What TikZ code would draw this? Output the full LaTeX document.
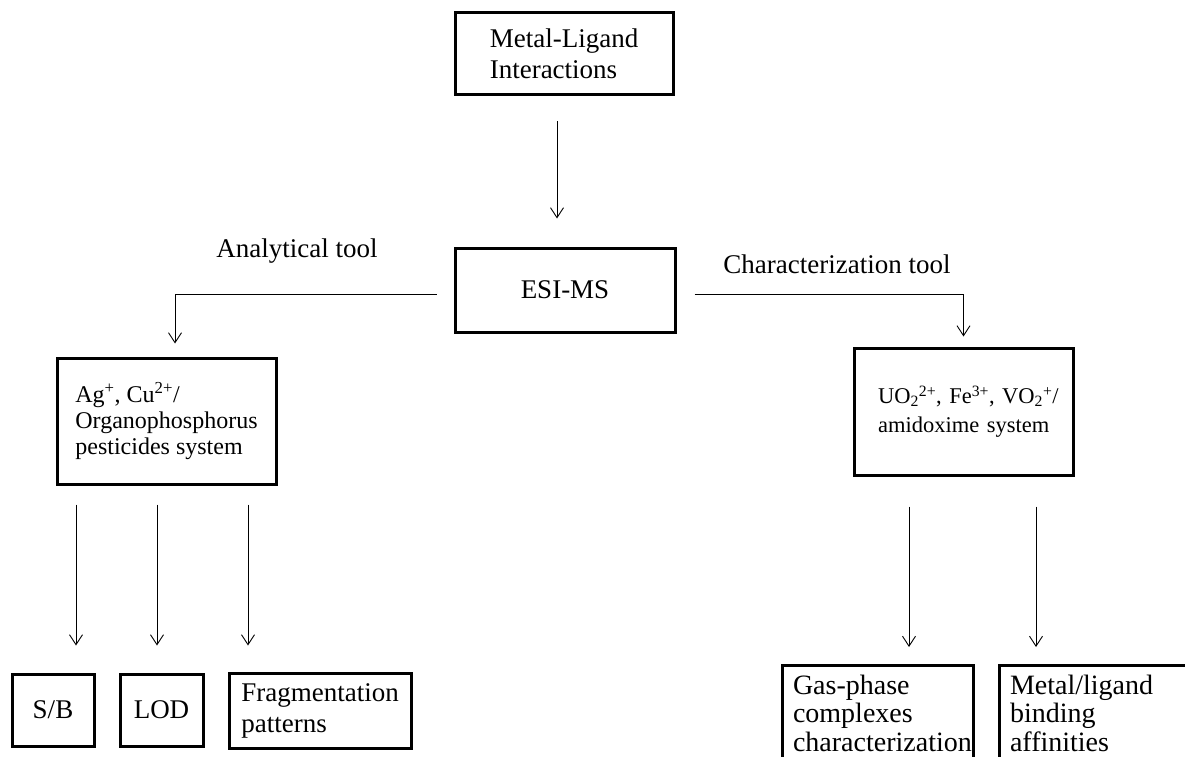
\documentclass[tikz,border=0pt]{standalone}
\usepackage{fontspec}
\setmainfont{Liberation Serif}
\usetikzlibrary{arrows.meta, positioning}
\hyphenpenalty=10000
\exhyphenpenalty=10000

\begin{document}
\begin{tikzpicture}[x=1pt, y=-1pt,
            every node/.style={font=\fontsize{27}{31}\selectfont},
            box/.style={draw, line width=3pt, rectangle, align=left, inner sep=0pt},
            link/.style={line width=0.9pt, -{Straight Barb[length=10pt, width=13pt, line width=0.9pt]}}]
        \useasboundingbox (0,0) rectangle (1185,757);
        \clip (0,0) rectangle (1185,757);
        % top of the chart
        \node[box, minimum width=218, minimum height=82] (interact) at (564,54) {Metal-Ligand\\Interactions};
        \node[box, minimum width=220, minimum height=84] (esims) at (565,290) {ESI-MS};
        \node (analyt) at (297,251) {Analytical tool};
        \node (charact) at (837,264) {Characterization tool};
        % the two systems
        \node[box, minimum width=219, minimum height=126, font=\fontsize{24}{26}\selectfont] (ag) at (166.5,421)
            {Ag\textsuperscript{+}, Cu\textsuperscript{2+}/\\Organophosphorus\\pesticides system};
        \node[box, text width=171, inner xsep=24, minimum height=127, font=\fontsize{22.5}{29}\selectfont] (uo) at (963.5,411.5)
            {\mbox{UO\textsubscript{2}\textsuperscript{2+}, Fe\textsuperscript{3+}, VO\textsubscript{2}\textsuperscript{+}/}\\\mbox{amidoxime system}};
        % what they give
        \node[box, minimum width=82, minimum height=72] (sb) at (53,710) {S/B};
        \node[box, minimum width=83, minimum height=72] (lod) at (161.5,710) {LOD};
        \node[box, minimum width=182, minimum height=75] (frag) at (320,710.5) {Fragmentation\\patterns};
        \node[box, anchor=north, text width=169, inner xsep=11, inner ysep=9.5, font=\fontsize{28}{28.5}\selectfont] (gas) at (877.5,664)
            {Gas-phase complexes \mbox{characterization}\rule[-15pt]{0pt}{0pt}};
        \node[box, anchor=north, text width=170, inner xsep=11, inner ysep=9.5, font=\fontsize{28}{28.5}\selectfont] (metal) at (1095,664)
            {Metal/ligand binding affinities\rule[-15pt]{0pt}{0pt}};

        \draw[link] ([shift={(-7,25)}]interact.south) -- ([shift={(-8,-28)}]esims.north);
        \draw[link] ([shift={(-17,4)}]esims.west) -| ([shift={(8.5,-13)}]ag.north);
        \draw[link] ([shift={(18,4)}]esims.east) -| ([shift={(0,-10)}]uo.north);
        \draw[link] ([shift={(-90.5,19)}]ag.south) -- ([shift={(23,-27)}]sb.north);
        \draw[link] ([shift={(-9.5,19)}]ag.south) -- ([shift={(-4.5,-27)}]lod.north);
        \draw[link] ([shift={(81.5,19)}]ag.south) -- ([shift={(-72,-26)}]frag.north);
        \draw[link] ([shift={(-54.5,30)}]uo.south) -- ([shift={(31.5,-17)}]gas.north);
        \draw[link] ([shift={(72.5,30)}]uo.south) -- ([shift={(-59,-17)}]metal.north);
    \end{tikzpicture}
\end{document}
